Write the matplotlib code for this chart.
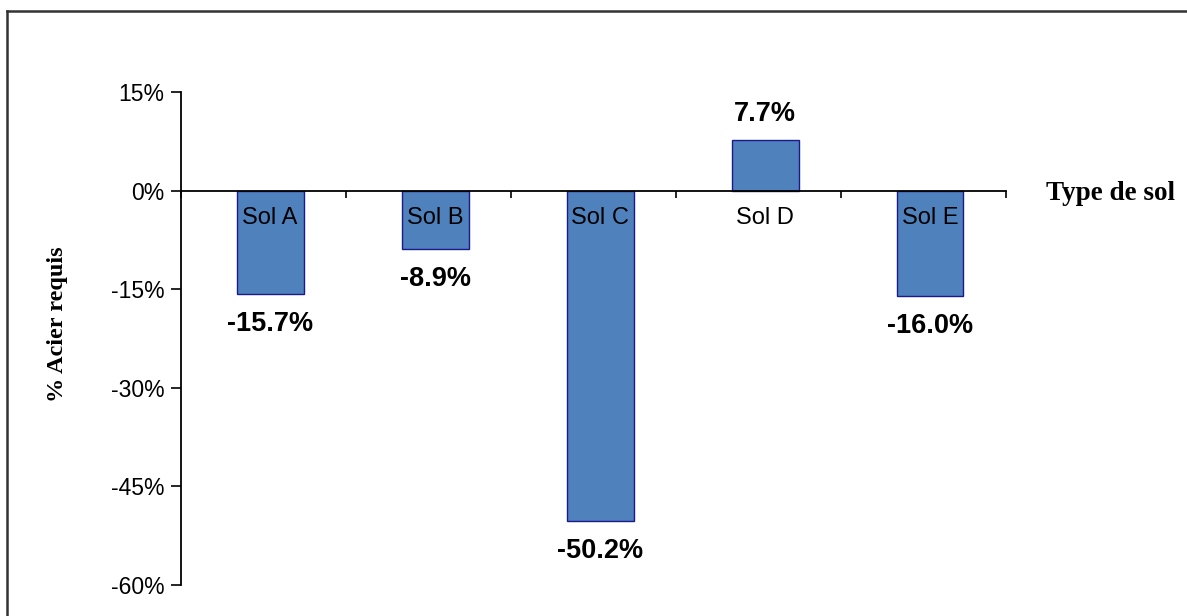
from matplotlib import pyplot as plt
from matplotlib.lines import Line2D
import numpy as np

# Données
sols = ['Sol A', 'Sol B', 'Sol C', 'Sol D', 'Sol E']
acier = [-15.7, -8.9, -50.2, 7.7, -16.0]
yticks = [15, 0, -15, -30, -45, -60]

plt.rcParams['font.family'] = ['Liberation Sans', 'DejaVu Sans']

fig = plt.figure(figsize=(11.87, 6.16), dpi=100)
ax = fig.add_axes([0.1525, 0.0503, 0.695, 0.8003])

x = np.arange(len(sols)) + 0.04
ax.bar(x, acier, width=0.405, color='#4F81BD', edgecolor='#1A1A8C', linewidth=1.0)

ax.set_xlim(-0.5, 4.5)
ax.set_ylim(-60, 15)

# axe des x sur la ligne du zéro
for s in ['top', 'right']:
    ax.spines[s].set_visible(False)
ax.spines['bottom'].set_position(('data', 0))
ax.spines['left'].set_linewidth(1.3)
ax.spines['bottom'].set_linewidth(1.3)

ax.set_xticks(x)
ax.set_xticklabels(sols, fontsize=17)
ax.tick_params(axis='x', which='major', length=0, pad=11.5)
ax.set_xticks(np.arange(-0.5, 5, 1), minor=True)
ax.tick_params(axis='x', which='minor', length=5, width=1.2, direction='out')

ax.set_yticks(yticks)
ax.set_yticklabels([f'{v}%' for v in yticks], fontsize=16.5)
ax.tick_params(axis='y', length=7, width=1.2, pad=5)

# étiquettes des valeurs
for xi, v in zip(x, acier):
    if v >= 0:
        ax.annotate(f'{v:.1f}%', (xi, v), xytext=(0, 26), textcoords='offset pixels',
                    ha='center', va='center', fontsize=19.5, fontweight='bold')
    else:
        ax.annotate(f'{v:.1f}%', (xi, v), xytext=(0, -30), textcoords='offset pixels',
                    ha='center', va='center', fontsize=19.5, fontweight='bold')

fig.text(1110 / 1187, 1 - 193 / 616, 'Type de sol', ha='center', va='center',
         fontsize=19.5, fontweight='bold', family='Liberation Serif')
fig.text(57 / 1187, 1 - 324 / 616, '% Acier requis', ha='center', va='center',
         rotation=90, fontsize=17.5, fontweight='bold', family='Liberation Serif')

# cadre (haut et gauche visibles)
fig.add_artist(Line2D([7 / 1187, 1], [1 - 11 / 616, 1 - 11 / 616], color='#333333', lw=1.8,
                      transform=fig.transFigure))
fig.add_artist(Line2D([7 / 1187, 7 / 1187], [0, 1 - 11 / 616], color='#333333', lw=1.8,
                      transform=fig.transFigure))

plt.savefig('out.png', dpi=100)
